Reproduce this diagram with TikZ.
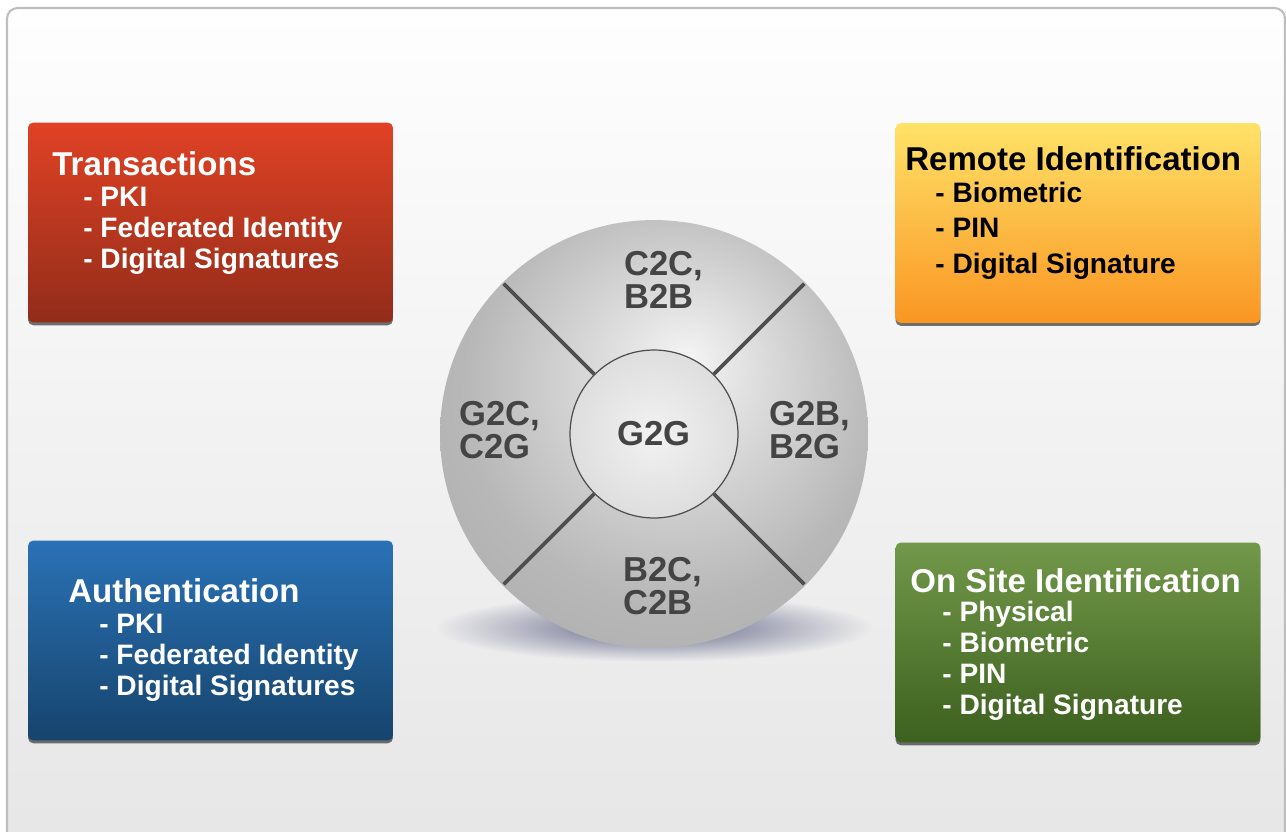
\documentclass[tikz,border=0pt]{standalone}
\usepackage{fontspec}
\setmainfont{Liberation Sans}
\usetikzlibrary{shadows}

\definecolor{frameline}{RGB}{190,190,190}
\definecolor{bgtop}{RGB}{254,254,254}
\definecolor{bgbot}{RGB}{230,230,230}
\definecolor{bgmid}{RGB}{237,237,237}
\definecolor{redtop}{RGB}{224,66,36}
\definecolor{redbot}{RGB}{146,44,26}
\definecolor{yeltop}{RGB}{255,226,104}
\definecolor{yelbot}{RGB}{250,150,34}
\definecolor{bluetop}{RGB}{42,114,182}
\definecolor{bluebot}{RGB}{22,68,108}
\definecolor{greentop}{RGB}{114,152,74}
\definecolor{greenbot}{RGB}{60,96,30}
\definecolor{sphhi}{RGB}{244,244,244}
\definecolor{sphmid}{RGB}{216,216,216}
\definecolor{sphedge}{RGB}{184,184,184}
\definecolor{sphlow}{RGB}{172,172,172}
\definecolor{hubin}{RGB}{242,242,242}
\definecolor{hubout}{RGB}{222,222,222}
\definecolor{divgray}{RGB}{78,78,78}
\definecolor{tagtext}{RGB}{68,68,68}
\definecolor{shadowblue}{RGB}{96,100,134}

\pgfdeclareradialshading{sphere}{\pgfpoint{4bp}{9bp}}{color(0bp)=(sphhi); color(11bp)=(sphmid); color(24bp)=(sphedge); color(36bp)=(sphlow); color(50bp)=(sphlow)}

\newcommand{\panelw}{7.3cm}
\newcommand{\panelh}{4cm}

\tikzset{
  panel/.style={rounded corners=3pt, minimum width=\panelw, minimum height=\panelh,
    drop shadow={shadow xshift=0pt, shadow yshift=-1.6pt, opacity=.65, fill=black!85}},
  head/.style={anchor=base west, inner xsep=0pt, font=\bfseries\fontsize{18.8}{20}\selectfont},
  items/.style={anchor=base west, inner xsep=0pt, align=left, font=\bfseries\fontsize{16}{#1}\selectfont},
  items/.default=17.6pt,
  tag/.style={align=left, text=tagtext, font=\bfseries\fontsize{19.7}{18.7}\selectfont},
  divider/.style={line width=2.2pt, draw=divgray, shorten >=1pt}
}

\begin{document}
\begin{tikzpicture}[x=0.02cm,y=-0.02cm]
  \useasboundingbox (0,0) rectangle (1286,832);
  \clip (0,0) rectangle (1286,832);
  \fill[white] (0,0) rectangle (1286,832);
  \draw[draw=frameline, line width=1.2pt, rounded corners=6pt, top color=bgtop, bottom color=bgbot] (7,8) rectangle (1285,860);

  \node[panel, top color=redtop, bottom color=redbot] (trans) at (210.5,222.5) {};
  \node[panel, top color=yeltop, bottom color=yelbot] (remote) at (1078,223) {};
  \node[panel, top color=bluetop, bottom color=bluebot] (auth) at (210.5,640.5) {};
  \node[panel, top color=greentop, bottom color=greenbot] (onsite) at (1078,642.5) {};

  % item lists sit on the baseline of their last line
  \node[head, text=white] (transhead) at (52,175) {Transactions};
  \node[items, text=white] (transitems) at (83,268) {- PKI\\- Federated Identity\\- Digital Signatures};
  \node[head] (remotehead) at (905,170) {Remote Identification};
  \node[items=20.1pt] (remoteitems) at (935,273) {- Biometric\\- PIN\\- Digital Signature};
  \node[head, text=white] (authhead) at (68,602) {Authentication};
  \node[items, text=white] (authitems) at (99,695) {- PKI\\- Federated Identity\\- Digital Signatures};
  \node[head, text=white] (onsitehead) at (910,592) {On Site Identification};
  \node[items, text=white] (onsiteitems) at (942,714) {- Physical\\- Biometric\\- PIN\\- Digital Signature};

  \shade[inner color=shadowblue, outer color=bgmid] (654,628) ellipse (220 and 34);
  \node[circle, minimum size=8.56cm, shading=sphere] (sphere) at (654,434) {};
  \node[circle, minimum size=3.36cm, draw=divgray, line width=0.7pt, inner color=hubin, outer color=hubout, tag] (hub) at (654,434) {G2G};
  \foreach \a in {45,135,225,315}
  {
    \draw[divider] (hub.\a) -- (sphere.\a);
  }

  \node[tag] (top) at (664,280) {C2C,\\B2B};
  \node[tag] (left) at (500,430) {G2C,\\C2G};
  \node[tag] (right) at (810,430) {G2B,\\B2G};
  \node[tag] (bottom) at (663,586) {B2C,\\C2B};
\end{tikzpicture}
\end{document}
